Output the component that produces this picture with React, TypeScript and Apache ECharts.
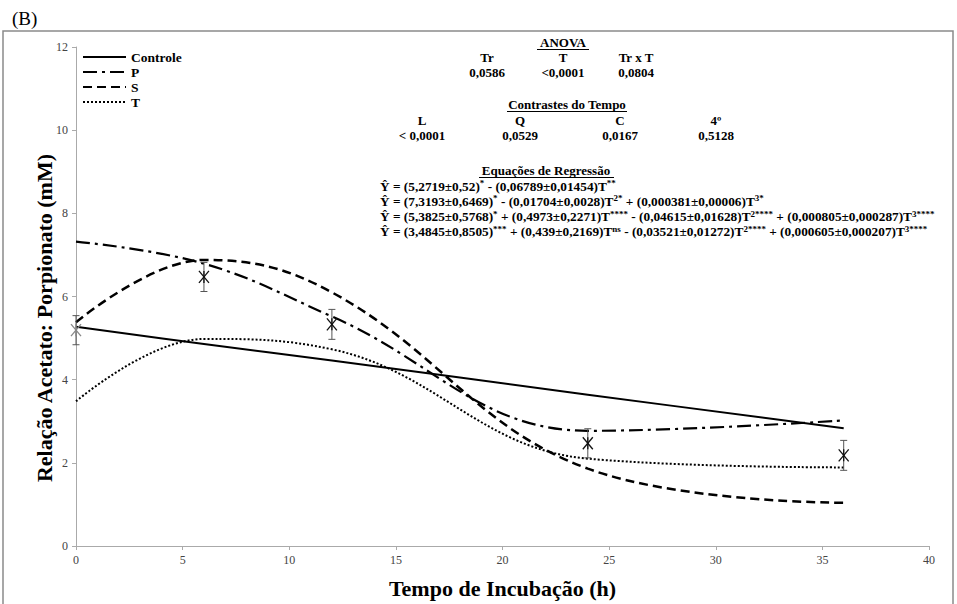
import React, { useEffect, useRef } from "react";
import * as echarts from "echarts";

const hours = [0, 6, 12, 24, 36];
const controleVals = [5.27, 4.86, 4.46, 3.64, 2.83];
const pVals = [7.32, 6.79, 5.52, 2.77, 3.02];
const sVals = [5.38, 6.88, 6.1, 1.86, 1.04];
const tVals = [3.48, 4.98, 4.73, 2.1, 1.89];
const meanVals = [5.19, 6.47, 5.33, 2.47, 2.18];
const errVals = [0.35, 0.35, 0.36, 0.35, 0.36];

const xTicks = { min: 0, max: 40, interval: 5 };
const yTicks = { min: 0, max: 12, interval: 2 };

const anovaHeads = ["Tr", "T", "Tr x T"];
const anovaVals = ["0,0586", "<0,0001", "0,0804"];
const contrastHeads = ["L", "Q", "C", "4º"];
const contrastVals = ["< 0,0001", "0,0529", "0,0167", "0,5128"];

// equations: pairs of [normal, superscript]
const equations: [string, string][][] = [
  [["Ŷ = (5,2719±0,52)", "*"], [" - (0,06789±0,01454)T", "**"]],
  [["Ŷ = (7,3193±0,6469)", "*"], [" - (0,01704±0,0028)T", "2*"], [" + (0,000381±0,00006)T", "3*"]],
  [["Ŷ = (5,3825±0,5768)", "*"], [" + (0,4973±0,2271)T", "****"], [" - (0,04615±0,01628)T", "2****"], [" + (0,000805±0,000287)T", "3****"]],
  [["Ŷ = (3,4845±0,8505)", "***"], [" + (0,439±0,2169)T", "ns"], [" - (0,03521±0,01272)T", "2****"], [" + (0,000605±0,000207)T", "3****"]],
];

const SERIF = "Liberation Serif";

function App() {
  const ref = useRef<HTMLDivElement>(null);
  useEffect(() => {
    if (!ref.current) return;
    const chart = echarts.init(ref.current, null, { renderer: "svg" });
    const pts = (v: number[]) => hours.map((h, i) => [h, v[i]]);
    const errData = hours.map((h, i) => [h, meanVals[i], meanVals[i] - errVals[i], meanVals[i] + errVals[i]]);

    const boldText = (text: string, x: number, y: number, align = "center") => ({
      type: "text",
      x,
      y,
      style: { text, fontFamily: SERIF, fontWeight: "bold", fontSize: 13, fill: "#000", textAlign: align, textVerticalAlign: "middle" },
    });
    const underline = (x1: number, x2: number, y: number) => ({
      type: "line",
      shape: { x1, y1: y, x2, y2: y },
      style: { stroke: "#000", lineWidth: 1 },
    });

    const anovaX = [487, 563, 636];
    const contrastX = [422, 520, 620, 716];
    const graphics: any[] = [
      { type: "rect", shape: { x: 3, y: 31, width: 950, height: 600 }, style: { fill: "none", stroke: "#8a8a8a", lineWidth: 1.5 } },
      { type: "text", x: 12, y: 18, style: { text: "(B)", fontFamily: SERIF, fontSize: 19, fill: "#000", textAlign: "left", textVerticalAlign: "middle" } },
      {
        type: "text",
        x: 44,
        y: 318,
        rotation: Math.PI / 2,
        style: { text: "Relação Acetato: Porpionato (mM)", fontFamily: SERIF, fontWeight: "bold", fontSize: 22, fill: "#000", textAlign: "center", textVerticalAlign: "middle" },
      },
      boldText("ANOVA", 563, 42),
      underline(537, 589, 49.5),
      ...anovaHeads.map((t, i) => boldText(t, anovaX[i], 57)),
      ...anovaVals.map((t, i) => boldText(t, anovaX[i], 72)),
      boldText("Contrastes do Tempo", 567, 104),
      underline(507, 627, 111.5),
      ...contrastHeads.map((t, i) => boldText(t, contrastX[i], 120)),
      ...contrastVals.map((t, i) => boldText(t, contrastX[i], 135)),
      boldText("Equações de Regressão", 546, 170),
      underline(479, 614, 177.5),
      ...equations.map((eq, i) => ({
        type: "text",
        x: 380,
        y: 186 + i * 15.3,
        style: {
          text: eq.map(([n, s]) => `{n|${n}}{s|${s}}`).join(""),
          textAlign: "left",
          textVerticalAlign: "middle",
          rich: {
            n: { fontFamily: SERIF, fontWeight: "bold", fontSize: 13.3, fill: "#000", lineHeight: 15 },
            s: { fontFamily: SERIF, fontWeight: "bold", fontSize: 9, fill: "#000", lineHeight: 9, verticalAlign: "top" },
          },
        },
      })),
    ];

    const lineSeries = (name: string, data: number[], type: any, width: number) => ({
      name,
      type: "line",
      data: pts(data),
      smooth: 0.4,
      symbol: "none",
      color: "#000",
      lineStyle: { color: "#000", width, type },
      z: 2,
    });

    chart.setOption({
      animation: false,
      backgroundColor: "#fff",
      grid: { left: 76, right: 28, top: 47, bottom: 55, containLabel: false },
      legend: {
        orient: "vertical",
        left: 82,
        top: 50,
        padding: 0,
        itemWidth: 43,
        itemHeight: 10,
        itemGap: 1,
        itemStyle: { opacity: 0 },
        textStyle: { fontFamily: SERIF, fontWeight: "bold", fontSize: 13.5, lineHeight: 11, color: "#000" },
        data: ["Controle", "P", "S", "T"],
      },
      xAxis: {
        type: "value",
        ...xTicks,
        name: "Tempo de Incubação (h)",
        nameLocation: "middle",
        nameGap: 31,
        nameTextStyle: { fontFamily: SERIF, fontWeight: "bold", fontSize: 22, color: "#000" },
        axisLine: { lineStyle: { color: "#aaa", width: 1 } },
        axisTick: { show: true, length: 4, lineStyle: { color: "#aaa" } },
        axisLabel: { fontFamily: SERIF, fontSize: 12, color: "#444", margin: 8 },
        splitLine: { show: false },
      },
      yAxis: {
        type: "value",
        ...yTicks,
        axisLine: { show: true, lineStyle: { color: "#aaa", width: 1 } },
        axisTick: { show: true, length: 4, lineStyle: { color: "#aaa" } },
        axisLabel: { fontFamily: SERIF, fontSize: 12, color: "#444", margin: 8 },
        splitLine: { show: false },
      },
      graphic: graphics,
      series: [
        lineSeries("Controle", controleVals, "solid", 2),
        lineSeries("P", pVals, [14, 5, 3, 5], 2.2),
        lineSeries("S", sVals, [9, 5], 2.5),
        lineSeries("T", tVals, [2, 2], 2),
        {
          name: "Média",
          type: "custom",
          data: errData,
          z: 5,
          renderItem: (params: any, api: any) => {
            const c = api.coord([api.value(0), api.value(1)]);
            const lo = api.coord([api.value(0), api.value(2)]);
            const hi = api.coord([api.value(0), api.value(3)]);
            const cap = 3.5;
            const mw = 5;
            const mh = 6;
            const errStyle = { stroke: "#555", lineWidth: 1 };
            const mk = { stroke: params.dataIndex === 0 ? "#888" : "#111", lineWidth: 1.3 };
            return {
              type: "group",
              children: [
                { type: "line", shape: { x1: lo[0], y1: lo[1], x2: hi[0], y2: hi[1] }, style: errStyle },
                { type: "line", shape: { x1: lo[0] - cap, y1: lo[1], x2: lo[0] + cap, y2: lo[1] }, style: errStyle },
                { type: "line", shape: { x1: hi[0] - cap, y1: hi[1], x2: hi[0] + cap, y2: hi[1] }, style: errStyle },
                { type: "line", shape: { x1: c[0] - mw, y1: c[1] - mh, x2: c[0] + mw, y2: c[1] + mh }, style: mk },
                { type: "line", shape: { x1: c[0] - mw, y1: c[1] + mh, x2: c[0] + mw, y2: c[1] - mh }, style: mk },
                { type: "line", shape: { x1: c[0], y1: c[1] - mh, x2: c[0], y2: c[1] + mh }, style: mk },
              ],
            };
          },
        },
      ],
    });
    return () => chart.dispose();
  }, []);
  return <div ref={ref} style={{ width: 957, height: 604, position: "absolute", left: 0, top: 0 }} />;
}

export default App;
